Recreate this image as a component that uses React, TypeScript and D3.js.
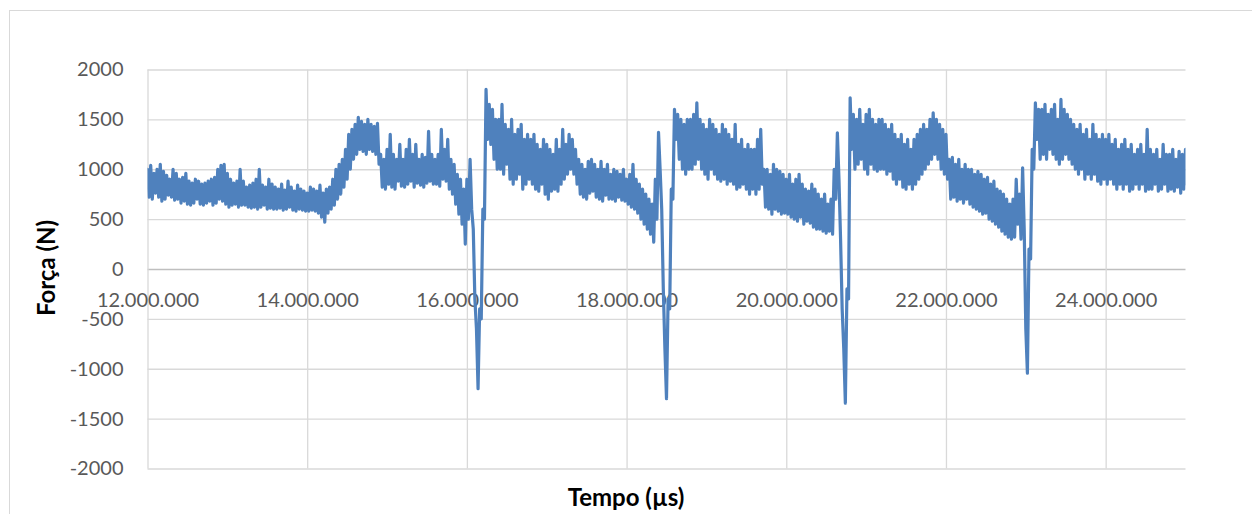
import React, { useEffect, useRef } from 'react';
import * as d3 from 'd3';

// tempo (µs): primeira amostra e passo entre amostras
const startTime = 12000000;
const sampleStep = 20000;

// força (N), uma amostra a cada 20.000 µs (sinal ruidoso: alterna picos e vales)
const forceValues = [
  1000, 720, 1040, 700, 960, 760, 1000, 720, 1050, 680, 980, 700, 940, 740, 900, 720, 1000, 690, 960, 700,
  900, 660, 920, 680, 960, 650, 880, 640, 860, 660, 900, 700, 880, 650, 850, 640, 860, 660, 880, 680,
  900, 640, 920, 660, 1000, 700, 1040, 680, 1050, 650, 960, 620, 900, 640, 860, 650, 880, 620, 1000, 640,
  880, 640, 820, 620, 840, 610, 860, 620, 900, 600, 1000, 620, 840, 640, 820, 600, 900, 610, 850, 600,
  820, 600, 800, 610, 850, 590, 790, 600, 880, 620, 820, 590, 780, 580, 840, 600, 800, 590, 780, 580,
  760, 580, 820, 590, 800, 580, 780, 560, 840, 520, 760, 470, 800, 560, 820, 600, 900, 640, 1000, 700,
  1050, 750, 1100, 820, 1200, 900, 1350, 1000, 1400, 1100, 1450, 1150, 1520, 1200, 1480, 1180, 1450, 1150, 1500, 1200,
  1450, 1180, 1430, 1150, 1460, 1050, 1150, 820, 1100, 800, 1200, 850, 1350, 820, 1150, 800, 1100, 880, 1250, 830,
  1100, 820, 1200, 850, 1300, 880, 1150, 820, 1250, 860, 1100, 840, 1150, 820, 1120, 860, 1380, 880, 1150, 850,
  1100, 850, 1150, 830, 1400, 900, 1200, 880, 1300, 800, 1100, 750, 1050, 650, 950, 550, 900, 450, 800, 250,
  900, 500, 1100, 600, 400, -300, -600, -1200, -400, -500, 600, 500, 1800, 1300, 1650, 1250, 1600, 1100, 1500, 1000,
  1500, 1000, 1650, 950, 1450, 1050, 1400, 900, 1500, 850, 1350, 900, 1400, 950, 1450, 800, 1300, 850, 1350, 900,
  1300, 850, 1350, 800, 1250, 780, 1200, 850, 1300, 750, 1250, 700, 1200, 780, 1150, 800, 1300, 780, 1200, 850,
  1400, 900, 1250, 950, 1350, 1000, 1300, 950, 1200, 850, 1100, 750, 1050, 720, 1000, 700, 1080, 760, 1100, 780,
  1050, 720, 1000, 700, 1080, 680, 1000, 740, 1050, 700, 950, 700, 1000, 680, 980, 720, 950, 690, 1000, 680,
  900, 650, 950, 620, 1050, 600, 900, 560, 850, 500, 800, 450, 750, 400, 700, 350, 650, 270, 900, 500,
  1370, 1000, 600, -200, -800, -1300, -300, -400, 800, 700, 1600, 1300, 1550, 1100, 1500, 1000, 1450, 950, 1500, 1000,
  1500, 1000, 1550, 1050, 1666, 1100, 1500, 1000, 1450, 950, 1400, 900, 1500, 1000, 1450, 950, 1400, 900, 1350, 880,
  1450, 900, 1400, 850, 1350, 880, 1300, 850, 1450, 800, 1250, 820, 1300, 850, 1200, 800, 1250, 750, 1200, 800,
  1200, 750, 1300, 800, 1400, 850, 1000, 620, 1000, 600, 950, 550, 1050, 600, 1000, 580, 980, 550, 950, 560,
  900, 550, 950, 520, 850, 500, 900, 480, 950, 520, 850, 450, 800, 480, 780, 460, 850, 420, 800, 400,
  750, 400, 700, 380, 750, 360, 650, 380, 700, 350, 1000, 700, 1365, 900, 300, -400, -800, -1345, -200, -300,
  1716, 1200, 1550, 1000, 1500, 1050, 1600, 1100, 1450, 1000, 1550, 950, 1600, 1050, 1500, 1000, 1450, 980, 1500, 1000,
  1500, 1000, 1450, 950, 1400, 980, 1450, 900, 1350, 850, 1300, 900, 1350, 820, 1250, 800, 1300, 850, 1200, 800,
  1300, 850, 1350, 900, 1400, 950, 1450, 1000, 1400, 1050, 1500, 1100, 1566, 1150, 1500, 1100, 1450, 1000, 1400, 950,
  1350, 900, 1100, 700, 1120, 720, 1050, 680, 1100, 700, 1000, 660, 1050, 700, 1000, 650, 1000, 620, 950, 600,
  980, 580, 950, 550, 900, 560, 920, 500, 850, 480, 880, 450, 800, 420, 780, 380, 750, 350, 700, 320,
  650, 300, 700, 320, 900, 450, 750, 300, 1014, 400, -600, -1044, 200, 100, 1200, 1000, 1666, 1300, 1600, 1100,
  1600, 1150, 1650, 1100, 1550, 1200, 1600, 1150, 1650, 1100, 1500, 1050, 1700, 1100, 1600, 1150, 1550, 1100, 1500, 1050,
  1450, 1000, 1400, 950, 1450, 1000, 1350, 900, 1400, 950, 1300, 900, 1450, 950, 1350, 880, 1300, 850, 1350, 900,
  1300, 850, 1350, 900, 1250, 850, 1300, 800, 1200, 850, 1250, 800, 1300, 850, 1200, 780, 1250, 800, 1150, 850,
  1200, 800, 1250, 850, 1150, 780, 1400, 800, 1200, 800, 1150, 850, 1200, 780, 1100, 800, 1250, 850, 1150, 780,
  1150, 800, 1200, 780, 1100, 820, 1180, 760, 1150, 800, 1200, 850,
];

const yTicks = [-2000, -1500, -1000, -500, 0, 500, 1000, 1500, 2000];
const xTicks = [12000000, 14000000, 16000000, 18000000, 20000000, 22000000, 24000000];
const xDomain = [12000000, 25000000];

const W = 1252, H = 514;
const plot = { left: 147.5, right: 1185.5, top: 69.5, bottom: 468.5 };
const FONT = 'Lato, "Open Sans", sans-serif';

export default function App() {
  const ref = useRef<SVGSVGElement>(null);

  useEffect(() => {
    const svg = d3.select(ref.current);
    svg.selectAll('*').remove();

    const data = forceValues.map((v, i) => ({ t: startTime + i * sampleStep, v }));

    const x = d3.scaleLinear().domain(xDomain).range([plot.left, plot.right]);
    const y = d3.scaleLinear().domain([-2000, 2000]).range([plot.bottom, plot.top]);

    // separador de milhar com ponto
    const fmt = d3.formatLocale({ decimal: ',', thousands: '.', grouping: [3], currency: ['', ''] }).format(',d');

    // moldura do gráfico
    svg.append('rect')
      .attr('x', 9.5).attr('y', 10.5)
      .attr('width', W + 20).attr('height', H + 20)
      .attr('fill', 'white')
      .attr('stroke', '#d9d9d9');

    // grade horizontal
    svg.append('g')
      .attr('transform', `translate(${plot.left},0)`)
      .call(d3.axisLeft(y).tickValues(yTicks).tickSize(-(plot.right - plot.left)).tickFormat(() => ''))
      .call(g => g.select('.domain').remove())
      .call(g => g.selectAll('line')
        .attr('stroke', d => (d === 0 ? '#bfbfbf' : '#d9d9d9'))
        .attr('stroke-width', 1.3));

    // grade vertical
    svg.append('g')
      .attr('transform', `translate(0,${plot.bottom})`)
      .call(d3.axisBottom(x).tickValues(xTicks).tickSize(-(plot.bottom - plot.top)).tickFormat(() => ''))
      .call(g => g.select('.domain').remove())
      .call(g => g.selectAll('line').attr('stroke', '#d9d9d9').attr('stroke-width', 1.3));

    // rótulos do eixo y
    svg.append('g')
      .attr('transform', `translate(${plot.left},0)`)
      .call(d3.axisLeft(y).tickValues(yTicks).tickSize(0).tickPadding(24).tickFormat(d => String(d)))
      .call(g => g.select('.domain').remove())
      .call(g => g.selectAll('text')
        .attr('font-family', FONT).attr('font-size', 20).attr('fill', '#595959'));

    // rótulos do eixo x, junto da linha do zero
    svg.append('g')
      .attr('transform', `translate(0,${y(0)})`)
      .call(d3.axisBottom(x).tickValues(xTicks).tickSize(0).tickPadding(24).tickFormat(d => fmt(d as number)))
      .call(g => g.select('.domain').remove())
      .call(g => g.selectAll('text')
        .attr('font-family', FONT).attr('font-size', 20).attr('fill', '#595959'));

    svg.append('clipPath').attr('id', 'plotClip')
      .append('rect')
      .attr('x', plot.left).attr('y', 0)
      .attr('width', plot.right - plot.left).attr('height', H);

    const line = d3.line<{ t: number; v: number }>()
      .x(d => x(d.t))
      .y(d => y(d.v));

    svg.append('path')
      .datum(data)
      .attr('clip-path', 'url(#plotClip)')
      .attr('d', line)
      .attr('fill', 'none')
      .attr('stroke', '#4f81bd')
      .attr('stroke-width', 3.2)
      .attr('stroke-linejoin', 'round')
      .attr('stroke-linecap', 'round');

    // títulos dos eixos
    svg.append('text')
      .attr('transform', `translate(55,268) rotate(-90)`)
      .attr('text-anchor', 'middle')
      .attr('font-family', FONT).attr('font-weight', 'bold').attr('font-size', 24)
      .attr('fill', '#000')
      .text('Força (N)');

    svg.append('text')
      .attr('x', 626)
      .attr('y', 506)
      .attr('text-anchor', 'middle')
      .attr('font-family', FONT).attr('font-weight', 'bold').attr('font-size', 24)
      .attr('fill', '#000')
      .text('Tempo (µs)');
  }, []);

  return (
    <svg ref={ref} width={W} height={H}
      style={{ position: 'absolute', left: 0, top: 0, background: 'white' }} />
  );
}
